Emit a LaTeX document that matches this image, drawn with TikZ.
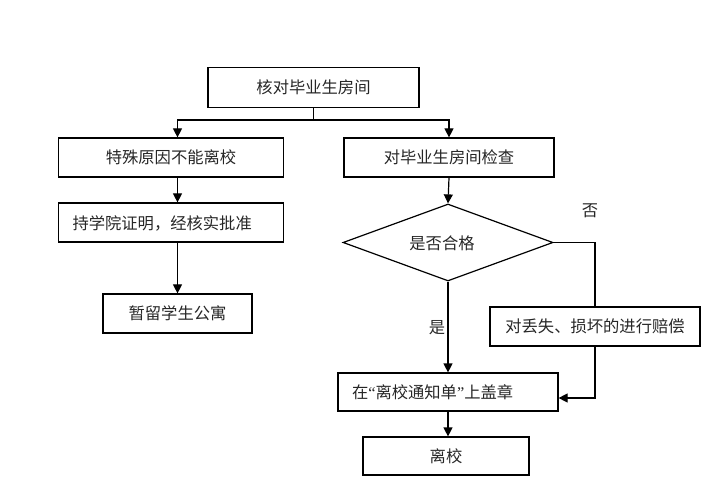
\documentclass[tikz,border=0pt]{standalone}
\usepackage{fontspec}
\setmainfont{Liberation Serif}
\newfontfamily\cjk{Noto Sans CJK SC}
\newfontfamily\lat{Liberation Serif}
\usetikzlibrary{shapes.geometric,arrows.meta}
\begin{document}
\begin{tikzpicture}[x=1pt,y=-1pt,
  font=\cjk\fontsize{16.3}{19}\selectfont,
  box/.style={draw,line width=1.2pt,rectangle,inner sep=0pt,text=black!85},
  lbox/.style={box,align=left,inner xsep=14pt,text depth=0pt},
  arr/.style={line width=1.2pt,-{Triangle[length=9pt,width=9pt]}},
  ln/.style={line width=1.2pt}]
\useasboundingbox (0,0) rectangle (725,502);
\node[box,minimum width=211pt,minimum height=40pt] (top) at (313.5,87.5) {核对毕业生房间};
\node[box,minimum width=225pt,minimum height=39pt] (lb1) at (171,157.5) {特殊原因不能离校};
\node[lbox,text width=197pt,minimum height=39pt] (lb2) at (171,222.5) {持学院证明，经核实批准};
\node[box,minimum width=149pt,minimum height=39pt] (lb3) at (177.5,313.5) {暂留学生公寓};
\node[box,minimum width=210pt,minimum height=39pt] (rb1) at (449,157.5) {对毕业生房间检查};
\node[draw,line width=1.2pt,diamond,inner sep=0pt,minimum width=210pt,minimum height=77pt,text=black!85] (dia) at (448,242.5) {};
\node[text=black!85] (diat) at (442,243) {是否合格};
\node[box,minimum width=210pt,minimum height=39pt] (comp) at (595,326.5) {对丢失、损坏的进行赔偿};
\node[lbox,text width=192pt,minimum height=38pt] (stamp) at (448,392) {在{\lat“}离校通知单{\lat”}上盖章};
\node[box,minimum width=166pt,minimum height=38pt] (leave) at (446,456) {离校};
\node[text=black!85] (no) at (590,211) {否};
\node[text=black!85] (yes) at (437,328) {是};
\coordinate (split) at (313.5,120);
\draw[ln] (top.south) -- (split);
\draw[arr] (split) -| (lb1.north -| lb3.north);
\draw[arr] (split) -| (rb1.north);
\draw[arr] (lb1.south -| lb3.north) -- (lb2.north -| lb3.north);
\draw[arr] (lb2.south -| lb3.north) -- (lb3.north);
\draw[arr] (rb1.south) -- (dia.north);
\draw[ln] (dia.east) -| (comp.north);
\draw[arr] (dia.south) -- (stamp.north);
\draw[arr] (comp.south) |- ([yshift=-6pt]stamp.east);
\draw[arr] (stamp.south) -- (stamp.south |- leave.north);
\end{tikzpicture}
\end{document}
